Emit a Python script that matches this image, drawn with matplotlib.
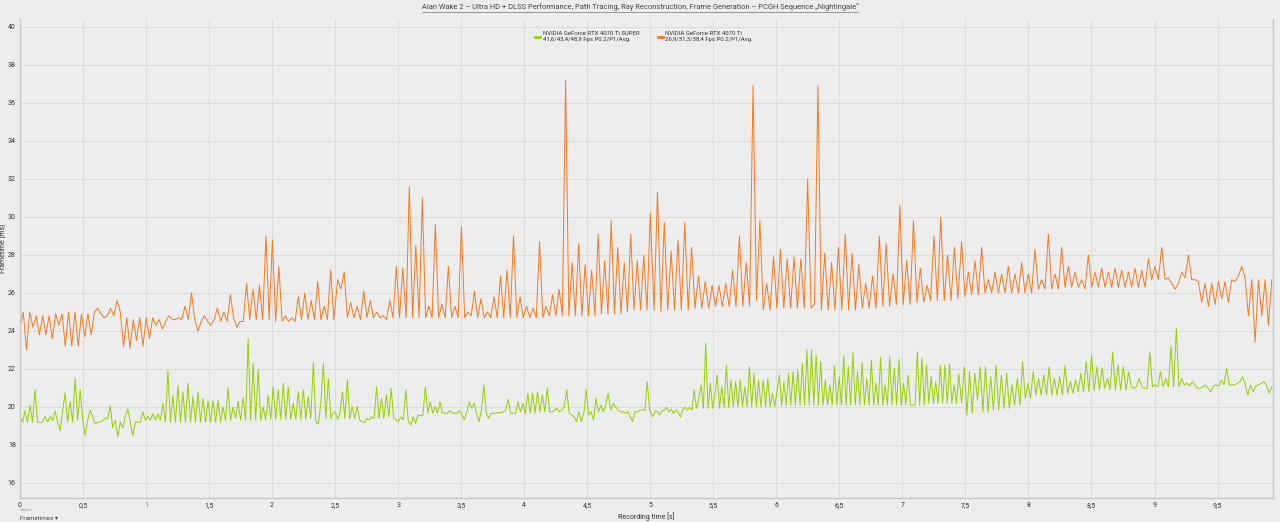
import numpy as np
import matplotlib
matplotlib.use("Agg")
import matplotlib.pyplot as plt
from matplotlib.lines import Line2D

# frametimes in ms in four time blocks per card
orange_seg1 = [24.2, 25.0, 23.0, 25.0, 24.2, 24.8, 23.8, 24.8, 23.8, 24.8, 23.6, 24.9, 24.3, 24.9, 23.2, 25.0, 23.2, 25.0, 23.2, 24.9,
               23.7, 24.9, 23.8, 25.0, 25.2, 24.9, 24.7, 24.8, 25.2, 24.8, 25.6, 25.0, 23.2, 24.7, 23.1, 24.6, 23.5, 24.7, 23.2, 24.7, 23.6,
               24.7, 24.3, 24.6, 24.1, 24.5, 24.8, 24.6, 24.6, 24.7, 24.6, 25.3, 24.6, 26.0, 24.6, 24.0, 24.5, 24.8, 24.5, 24.3, 24.6,
               25.2, 24.5, 25.0, 24.5, 25.9, 24.7, 24.2, 24.5, 24.5, 26.5, 24.6, 26.2, 24.6, 26.4, 24.6, 29.0, 24.6, 28.8, 24.5, 27.4,
               24.5, 24.8, 24.5, 24.7, 24.5, 25.8, 24.6, 26.0, 24.6, 25.6, 24.6, 26.6, 24.6, 25.3, 24.6, 27.2, 24.6]
orange_seg2 = [26.7, 26.2, 27.1, 24.7, 25.5, 24.7, 25.3, 24.6, 26.1, 24.7, 25.6, 24.7, 25.0, 24.7, 24.8, 24.6, 25.6, 24.7, 27.4, 24.7,
               27.3, 24.7, 31.6, 24.7, 28.5, 24.7, 31.0, 24.7, 25.3, 24.7, 29.6, 24.7, 25.4, 24.7, 27.4, 24.7, 25.3, 24.7, 29.5, 24.7,
               25.0, 24.8, 26.1, 24.7, 25.7, 24.7, 25.0, 24.7, 25.8, 24.7, 26.9, 24.7, 27.2, 24.7, 29.0, 24.7, 25.8, 24.7, 25.3, 24.7,
               25.2, 24.7, 28.7, 24.7, 25.3, 24.8, 25.9, 24.8, 26.2, 24.8, 37.2, 24.8, 27.6, 24.8, 28.6, 24.8, 27.5, 24.8, 27.2, 24.8,
               29.1, 24.9, 27.7, 24.9, 29.8, 24.9, 28.4, 24.9, 27.6, 25.0, 29.1, 25.1, 27.7, 25.1, 28.0, 25.1, 30.2]
orange_seg3 = [25.1, 31.3, 25.0, 29.7, 25.1, 28.2, 25.1, 28.8, 25.1, 29.7, 25.1, 28.4, 25.2, 26.9, 25.2, 26.6, 25.2, 26.4, 25.3, 26.4,
               25.3, 26.5, 25.3, 27.2, 25.3, 29.0, 25.3, 27.6, 25.3, 36.9, 25.6, 29.8, 25.1, 26.5, 25.1, 27.9, 25.2, 28.3, 25.2, 27.8,
               25.2, 27.9, 25.2, 27.8, 25.2, 32.0, 25.2, 25.4, 36.9, 25.1, 28.1, 25.1, 27.6, 25.1, 28.4, 25.1, 29.1, 25.1, 28.1, 25.1,
               27.5, 25.2, 26.5, 25.2, 26.9, 25.2, 29.0, 25.3, 28.6, 25.3, 27.0, 25.4, 30.6, 25.4, 27.7, 25.4, 29.8, 25.5, 27.3, 25.5,
               26.4, 25.6, 29.0, 25.6, 30.0, 25.6, 28.0, 25.6, 28.4, 25.7]
orange_seg4 = [28.7, 25.8, 27.1, 25.9, 27.7, 25.9, 28.4, 26.0, 26.7, 26.0, 27.1, 26.0, 27.0, 26.0, 27.4, 26.0, 27.0, 26.0, 27.6, 26.0,
               27.0, 26.0, 28.3, 26.2, 26.7, 26.2, 29.1, 26.2, 27.0, 26.2, 28.4, 26.3, 27.4, 26.3, 27.1, 26.3, 26.7, 26.2, 28.0, 26.3,
               27.1, 26.3, 27.3, 26.3, 27.1, 26.3, 27.3, 26.3, 27.2, 26.3, 27.1, 26.3, 27.3, 26.3, 27.2, 26.3, 27.8, 26.7, 27.4, 26.7,
               28.4, 26.7, 26.8, 26.5, 26.2, 26.5, 27.1, 26.8, 28.0, 26.7, 26.7, 26.6, 25.5, 26.5, 25.3, 26.5, 25.4, 26.6, 25.7, 26.6,
               25.5, 26.7, 26.6, 26.9, 27.4, 26.8, 24.8, 26.7, 23.4, 26.7, 24.8, 26.7, 24.3, 26.7]

green_seg1 = [19.5, 19.2, 19.8, 19.2, 20.1, 19.2, 20.9, 19.2, 19.2, 19.2, 19.5, 19.2, 19.5, 19.3, 19.8, 19.2, 18.75, 19.8, 20.75, 19.2,
              20.3, 19.2, 21.5, 19.3, 20.9, 19.35, 18.5, 19.3, 19.85, 19.5, 19.1, 19.2, 19.2, 19.3, 19.4, 19.4, 20.05, 18.9, 19.3, 18.45,
              19.2, 18.9, 19.5, 19.9, 19.2, 18.5, 19.2, 19.2, 19.2, 19.75, 19.3, 19.5, 19.3, 19.65, 19.3, 19.65, 19.3, 20.2, 19.2, 21.9,
              19.2, 20.6, 19.2, 21.15, 19.2, 20.8, 19.2, 21.25, 19.2, 20.55, 19.2, 20.8, 19.2, 20.45, 19.2, 20.3, 19.2, 20.35, 19.2, 20.35,
              19.2, 20.0, 19.3, 21.0, 19.3, 20.0, 19.4, 20.3, 19.3, 20.5, 19.3, 23.6, 19.3, 22.3, 19.3, 21.95, 19.3, 20.0, 19.3, 20.6,
              19.35, 21.05, 19.35, 20.9, 19.35, 21.25, 19.35, 21.05, 19.35, 20.2, 19.35, 20.8, 19.35, 20.9, 19.35, 20.55, 19.4, 22.35,
              19.2, 19.1, 20.2, 22.3, 19.4, 21.5, 19.4, 19.7]
green_seg2 = [19.75, 19.35, 19.67, 20.8, 19.4, 21.46, 19.35, 20.02, 19.4, 20.05, 19.32, 19.23, 19.18, 19.4, 19.32, 19.49, 19.4, 21.07,
              19.4, 20.46, 19.4, 20.63, 19.49, 20.98, 19.4, 19.32, 19.23, 19.49, 19.32, 20.9, 19.23, 19.05, 19.49, 19.14, 19.58, 19.53,
              19.58, 21.07, 19.67, 20.28, 19.67, 20.02, 19.67, 20.28, 19.7, 19.67, 19.67, 19.8, 19.67, 19.67, 19.67, 19.8, 19.58, 19.32,
              19.75, 20.28, 19.93, 20.19, 19.67, 19.23, 19.84, 21.16, 19.67, 19.4, 19.67, 19.67, 19.67, 19.7, 19.7, 19.75, 19.84, 20.4,
              19.67, 19.67, 19.67, 20.28, 19.75, 20.19, 19.67, 20.72, 19.67, 20.72, 19.67, 20.8, 19.75, 20.63, 19.75, 20.98, 19.75,
              19.75, 19.84, 19.93, 19.75, 19.84, 20.02, 20.9, 19.67, 19.58, 19.49, 19.23, 19.75, 19.23, 19.67, 20.9, 19.58, 19.75,
              19.32, 20.46, 19.75, 20.1, 19.75, 20.1, 20.72, 19.84, 20.19, 20.02, 19.84, 19.75, 19.75, 19.67, 19.75, 19.49, 19.23,
              19.75, 19.75, 19.84, 19.84, 19.84, 21.33, 19.84]
green_seg3 = [19.49, 19.8, 19.75, 19.58, 19.8, 19.84, 19.98, 19.75, 19.88, 19.67, 19.84, 19.75, 19.46, 19.88, 19.98, 19.84, 19.98,
              19.84, 20.9, 19.93, 20.46, 21.16, 19.93, 23.35, 19.93, 21.25, 19.93, 20.63, 21.68, 19.93, 21.07, 19.98, 22.2, 19.98,
              21.42, 20.02, 21.33, 20.02, 21.42, 20.02, 21.07, 20.02, 22.12, 20.02, 21.77, 20.02, 21.42, 20.02, 21.42, 20.02, 21.5,
              20.02, 20.72, 20.02, 20.8, 21.68, 20.05, 21.33, 20.1, 21.77, 20.1, 21.86, 20.1, 21.95, 20.1, 22.3, 20.1, 23.0, 20.1,
              23.0, 20.1, 22.74, 20.1, 22.39, 20.1, 21.42, 20.1, 21.16, 20.1, 22.16, 20.1, 21.6, 20.1, 22.68, 20.1, 22.12, 20.1,
              22.86, 20.1, 21.86, 20.1, 22.33, 20.1, 21.5, 20.1, 22.47, 20.1, 21.25, 20.1, 22.61, 20.1, 21.16, 20.1, 22.65, 20.1,
              22.04, 20.1, 22.5, 20.1, 21.25, 20.1, 21.68, 20.1, 20.1, 20.1, 22.9, 20.1, 22.56, 20.1, 22.2, 20.19, 21.6, 20.19,
              21.33, 20.19, 22.2, 20.19, 22.2, 20.19, 22.26, 20.19, 21.16, 20.19, 21.74]
green_seg4 = [20.19, 22.12, 19.58, 21.86, 19.67, 21.77, 20.37, 22.12, 19.75, 22.12, 19.75, 21.6, 19.84, 22.2, 19.84, 21.68, 19.93,
              21.77, 19.93, 21.16, 20.1, 21.5, 20.1, 22.39, 20.46, 21.25, 20.46, 21.86, 20.63, 21.5, 20.63, 21.68, 20.63, 22.12,
              20.63, 21.5, 20.63, 21.6, 20.63, 22.16, 20.72, 21.33, 20.72, 21.42, 20.8, 21.77, 20.8, 22.39, 20.8, 22.74, 20.86,
              22.12, 20.9, 22.04, 20.98, 21.5, 20.9, 22.9, 20.9, 22.2, 20.9, 22.12, 20.9, 21.86, 21.07, 20.98, 21.07, 21.5, 21.07,
              20.98, 20.98, 22.9, 21.07, 21.16, 21.07, 21.86, 21.07, 21.5, 21.07, 23.2, 21.07, 24.14, 21.07, 21.5, 21.16, 21.25,
              21.1, 21.33, 21.16, 20.98, 20.98, 21.07, 21.16, 20.98, 20.8, 21.1, 21.16, 21.1, 21.42, 21.16, 22.04, 21.16, 21.16,
              21.16, 21.25, 21.33, 21.6, 21.16, 20.63, 21.16, 20.8, 21.1, 21.16, 21.25, 21.33, 21.16, 20.72, 21.07]

# recording time (s) of first and last frame in each block
orange_spans = [(0.0, 2.49), (2.52, 5.0), (5.03, 7.44), (7.47, 9.93)]
green_spans = [(0.0, 2.486), (2.5, 4.995), (5.02, 7.447), (7.47, 9.93)]

labels = ["NVIDIA GeForce RTX 4070 Ti SUPER\n41,6/43,4/48,9 Fps P0.2/P1/Avg.",
          "NVIDIA GeForce RTX 4070 Ti\n26,9/31,3/38,4 Fps P0.2/P1/Avg."]
x_ticks = [0, 0.5, 1, 1.5, 2, 2.5, 3, 3.5, 4, 4.5, 5, 5.5, 6, 6.5, 7, 7.5, 8, 8.5, 9, 9.5]
y_ticks = [16, 18, 20, 22, 24, 26, 28, 30, 32, 34, 36, 38, 40]
title = "Alan Wake 2 \u2013 Ultra HD + DLSS Performance, Path Tracing, Ray Reconstruction, Frame Generation \u2013 PCGH Sequence \u201eNightingale\u201c"


def build(segs, spans):
    xs, ys = [], []
    for vals, (t0, t1) in zip(segs, spans):
        xs.append(np.linspace(t0, t1, len(vals)))
        ys.append(np.array(vals))
    return np.concatenate(xs), np.concatenate(ys)


gx, gy = build([green_seg1, green_seg2, green_seg3, green_seg4], green_spans)
ox, oy = build([orange_seg1, orange_seg2, orange_seg3, orange_seg4], orange_spans)

plt.rcParams['font.family'] = ['Roboto', 'DejaVu Sans']
bg = '#ededed'
fig = plt.figure(figsize=(12.8, 5.22), dpi=100, facecolor=bg)
ax = fig.add_axes([20 / 1280, 1 - 498 / 522, 1253 / 1280, 479 / 522], facecolor=bg)

ax.plot(gx, gy, color='#96d000', lw=0.7, label=labels[0])
ax.plot(ox, oy, color='#f47a1f', lw=0.7, label=labels[1])

ax.set_xlim(0, 9.94)
ax.set_ylim(15.21, 40.42)
ax.set_xticks(x_ticks)
ax.set_xticklabels([f"{t:g}".replace('.', ',') for t in x_ticks])
ax.set_yticks(y_ticks)
ax.tick_params(length=0, labelsize=5, colors='#333333', pad=3)
ax.get_xticklabels()[2].set_color('#3d7fd0')
ax.grid(True, color='#dcdcdc', lw=0.8)
ax.set_axisbelow(True)
ax.spines['top'].set_visible(False)
for side in ['left', 'bottom', 'right']:
    ax.spines[side].set_color('#c8c8c8')
    ax.spines[side].set_linewidth(1.0)

ax.set_xlabel("Recording time [s]", fontsize=5, color='#333333', labelpad=2)
ax.set_ylabel("Frametime [ms]", fontsize=5, color='#333333')
ax.yaxis.set_label_coords(-13 / 1253, 0.52)

leg = ax.legend(loc='upper left', bbox_to_anchor=(530 / 1280, 1 - 26 / 522), bbox_transform=fig.transFigure,
                ncol=2, frameon=False, fontsize=4.3, handlelength=0.8, handletextpad=0.4, columnspacing=3.2,
                labelcolor='#333333')
for h in leg.get_lines():
    h.set_linewidth(2)

t = fig.text(0.5, 1 - 7 / 522, title, ha='center', va='center', fontsize=5.4, color='#444444')
fig.text(20 / 1280, 1 - 510 / 522, "Values", fontsize=3, color='#999999', va='center')
fig.text(20 / 1280, 1 - 518 / 522, "Frametimes \u25be", fontsize=4.5, color='#444444', va='center')

fig.canvas.draw()
bb = t.get_window_extent()
W, H = fig.bbox.width, fig.bbox.height
fig.add_artist(Line2D([bb.x0 / W, bb.x1 / W], [(bb.y0 - 1.5) / H] * 2, transform=fig.transFigure,
                      color='#888888', lw=0.6))

fig.savefig("out.png", dpi=100, facecolor=bg)
